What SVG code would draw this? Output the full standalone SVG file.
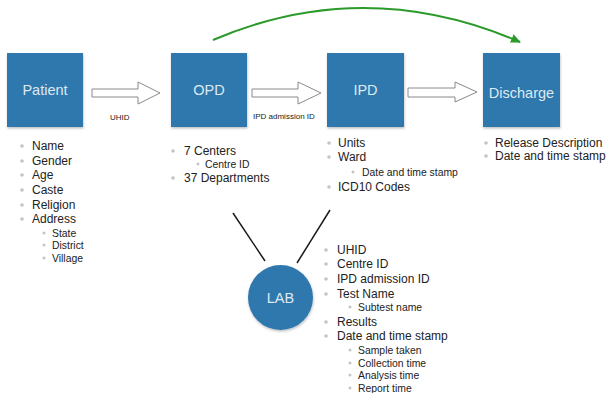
<svg xmlns="http://www.w3.org/2000/svg" width="607" height="393" viewBox="0 0 607 393">
  <defs>
    <style>
      .box { fill: #2f78ad; }
      .nlabel { font-family: "Liberation Sans", Arial, sans-serif; font-size: 14.5px; fill: #dfe9f2; text-anchor: middle; }
      .elabel { font-family: "Liberation Sans", Arial, sans-serif; font-size: 8px; fill: #222; }
      .li { font-family: "Liberation Sans", Arial, sans-serif; font-size: 12px; fill: #222; }
      .sub { font-family: "Liberation Sans", Arial, sans-serif; font-size: 10.4px; fill: #222; }
      .b { fill: #c4c4c4; }
      .flow { fill: #fff; stroke: #8a8a8a; stroke-width: 1; }
      .link { fill: none; stroke: #1a1a1a; stroke-width: 1.5; }
      .green { fill: none; stroke: #2a9a2a; stroke-width: 2; }
    </style>
    <filter id="shadow" x="-10%" y="-10%" width="125%" height="125%">
      <feDropShadow dx="0.5" dy="1.5" stdDeviation="1.2" flood-color="#000" flood-opacity="0.25"/>
    </filter>
    <marker id="greenHead" markerWidth="10" markerHeight="10" refX="9" refY="5" orient="auto" markerUnits="userSpaceOnUse">
      <path d="M0,0.5 L10,5 L0,9.5 Z" fill="#2a9a2a"/>
    </marker>
  </defs>

  <!-- connectors -->
  <g id="connectors">
    <path class="flow" d="M92,89 H138 V82 L160,93 L138,104 V97 H92 Z"/>
    <path class="flow" d="M252,89 H298 V82 L321,93 L298,104 V97 H252 Z"/>
    <path class="flow" d="M408,88 H455 V82 L477,92 L455,102 V97 H408 Z"/>
    <text class="elabel" x="110" y="120">UHID</text>
    <text class="elabel" x="253" y="119">IPD admission ID</text>
    <path class="green" d="M213,40 Q365,-25 520,42" marker-end="url(#greenHead)"/>
    <line class="link" x1="233" y1="213" x2="265" y2="261"/>
    <line class="link" x1="330" y1="210" x2="297" y2="263"/>
  </g>

  <!-- Patient -->
  <g id="patient">
    <rect class="box" x="7" y="53" width="76" height="74" filter="url(#shadow)"/>
    <text class="nlabel" x="45" y="95">Patient</text>
    <circle class="b" cx="22" cy="146" r="1.8"/><text class="li" x="32" y="150">Name</text>
    <circle class="b" cx="22" cy="161" r="1.8"/><text class="li" x="32" y="165">Gender</text>
    <circle class="b" cx="22" cy="175" r="1.8"/><text class="li" x="32" y="179">Age</text>
    <circle class="b" cx="22" cy="190" r="1.8"/><text class="li" x="32" y="194">Caste</text>
    <circle class="b" cx="22" cy="205" r="1.8"/><text class="li" x="32" y="209">Religion</text>
    <circle class="b" cx="22" cy="219" r="1.8"/><text class="li" x="32" y="223">Address</text>
    <circle class="b" cx="44" cy="233" r="1.5"/><text class="sub" x="52" y="236.5">State</text>
    <circle class="b" cx="44" cy="245" r="1.5"/><text class="sub" x="52" y="248.5">District</text>
    <circle class="b" cx="44" cy="258" r="1.5"/><text class="sub" x="52" y="261.5">Village</text>
  </g>

  <!-- OPD -->
  <g id="opd">
    <rect class="box" x="171" y="53" width="76" height="74" filter="url(#shadow)"/>
    <text class="nlabel" x="209" y="95">OPD</text>
    <circle class="b" cx="173" cy="151" r="1.8"/><text class="li" x="184" y="155">7 Centers</text>
    <circle class="b" cx="198" cy="164" r="1.5"/><text class="sub" x="205" y="167.5">Centre ID</text>
    <circle class="b" cx="173" cy="178" r="1.8"/><text class="li" x="184" y="182">37 Departments</text>
  </g>

  <!-- IPD -->
  <g id="ipd">
    <rect class="box" x="327" y="53" width="77" height="74" filter="url(#shadow)"/>
    <text class="nlabel" x="365.5" y="95">IPD</text>
    <circle class="b" cx="329" cy="143" r="1.8"/><text class="li" x="338" y="147">Units</text>
    <circle class="b" cx="329" cy="157" r="1.8"/><text class="li" x="338" y="161">Ward</text>
    <circle class="b" cx="353" cy="172" r="1.5"/><text class="sub" x="362" y="175.5">Date and time stamp</text>
    <circle class="b" cx="329" cy="187" r="1.8"/><text class="li" x="338" y="191">ICD10 Codes</text>
  </g>

  <!-- Discharge -->
  <g id="discharge">
    <rect class="box" x="483" y="53" width="77" height="74" filter="url(#shadow)"/>
    <text class="nlabel" x="521.5" y="98">Discharge</text>
    <circle class="b" cx="486" cy="143" r="1.8"/><text class="li" x="495" y="147">Release Description</text>
    <circle class="b" cx="486" cy="156" r="1.8"/><text class="li" x="495" y="160">Date and time stamp</text>
  </g>

  <!-- LAB -->
  <g id="lab">
    <circle class="box" cx="280.5" cy="297.5" r="32.5" filter="url(#shadow)"/>
    <text class="nlabel" x="280.5" y="302.5">LAB</text>
    <circle class="b" cx="326" cy="250" r="1.8"/><text class="li" x="337" y="254">UHID</text>
    <circle class="b" cx="326" cy="264" r="1.8"/><text class="li" x="337" y="268">Centre ID</text>
    <circle class="b" cx="326" cy="279" r="1.8"/><text class="li" x="337" y="283">IPD admission ID</text>
    <circle class="b" cx="326" cy="294" r="1.8"/><text class="li" x="337" y="298">Test Name</text>
    <circle class="b" cx="350" cy="307" r="1.5"/><text class="sub" x="358" y="310.5">Subtest name</text>
    <circle class="b" cx="326" cy="322" r="1.8"/><text class="li" x="337" y="326">Results</text>
    <circle class="b" cx="326" cy="336" r="1.8"/><text class="li" x="337" y="340">Date and time stamp</text>
    <circle class="b" cx="350" cy="350" r="1.5"/><text class="sub" x="358" y="353.5">Sample taken</text>
    <circle class="b" cx="350" cy="363" r="1.5"/><text class="sub" x="358" y="366.5">Collection time</text>
    <circle class="b" cx="350" cy="375" r="1.5"/><text class="sub" x="358" y="378.5">Analysis time</text>
    <circle class="b" cx="350" cy="388" r="1.5"/><text class="sub" x="358" y="391.5">Report time</text>
  </g>
</svg>
